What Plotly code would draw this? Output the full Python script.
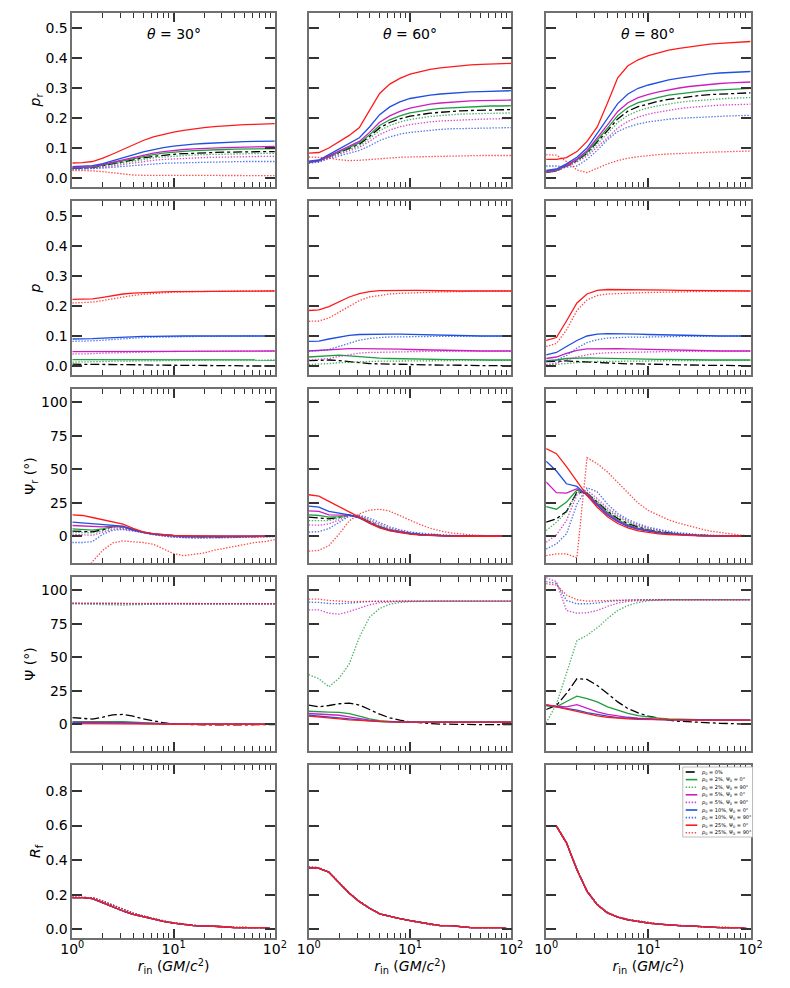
import plotly.graph_objects as go

# inner disc radius grid (GM/c^2)
r_in = [1.0, 1.26, 1.58, 2.0, 2.51, 3.16, 3.98, 5.01, 6.31, 7.94, 10.0,
        12.6, 15.8, 20.0, 25.1, 31.6, 39.8, 50.1, 63.1, 79.4, 100.0]

series_names = [
    '<i>p</i><sub>0</sub> = 0%',
    '<i>p</i><sub>0</sub> = 2%, Ψ<sub>0</sub> = 0°',
    '<i>p</i><sub>0</sub> = 2%, Ψ<sub>0</sub> = 90°',
    '<i>p</i><sub>0</sub> = 5%, Ψ<sub>0</sub> = 0°',
    '<i>p</i><sub>0</sub> = 5%, Ψ<sub>0</sub> = 90°',
    '<i>p</i><sub>0</sub> = 10%, Ψ<sub>0</sub> = 0°',
    '<i>p</i><sub>0</sub> = 10%, Ψ<sub>0</sub> = 90°',
    '<i>p</i><sub>0</sub> = 25%, Ψ<sub>0</sub> = 0°',
    '<i>p</i><sub>0</sub> = 25%, Ψ<sub>0</sub> = 90°',
]
series_colors = ['#000000', '#1f9e3e', '#1f9e3e', '#cc1fc0', '#cc1fc0',
                 '#1f4fe0', '#1f4fe0', '#ff1a1a', '#ff1a1a']
series_dash = ['dashdot', 'solid', 'dot', 'solid', 'dot',
               'solid', 'dot', 'solid', 'dot']

inclinations = [30, 60, 80]

# ---- p_r (reflected polarization degree) ----
pr_30 = [
    [0.032, 0.033, 0.035, 0.041, 0.048, 0.055, 0.061, 0.067, 0.072, 0.076, 0.079, 0.081, 0.083, 0.084, 0.085, 0.086, 0.087, 0.087, 0.088, 0.088, 0.088],
    [0.033, 0.034, 0.036, 0.043, 0.050, 0.058, 0.065, 0.072, 0.078, 0.083, 0.087, 0.089, 0.091, 0.093, 0.094, 0.095, 0.096, 0.097, 0.097, 0.098, 0.098],
    [0.031, 0.032, 0.034, 0.039, 0.045, 0.051, 0.057, 0.062, 0.067, 0.070, 0.073, 0.075, 0.077, 0.078, 0.079, 0.080, 0.081, 0.081, 0.082, 0.082, 0.082],
    [0.035, 0.036, 0.038, 0.045, 0.053, 0.061, 0.069, 0.077, 0.083, 0.088, 0.092, 0.095, 0.097, 0.099, 0.100, 0.101, 0.102, 0.103, 0.104, 0.104, 0.105],
    [0.030, 0.031, 0.032, 0.036, 0.041, 0.046, 0.051, 0.055, 0.059, 0.062, 0.064, 0.066, 0.067, 0.068, 0.069, 0.070, 0.071, 0.071, 0.072, 0.072, 0.072],
    [0.038, 0.039, 0.041, 0.048, 0.057, 0.067, 0.077, 0.087, 0.095, 0.101, 0.106, 0.110, 0.113, 0.115, 0.117, 0.119, 0.120, 0.121, 0.122, 0.122, 0.123],
    [0.028, 0.029, 0.030, 0.033, 0.036, 0.039, 0.042, 0.045, 0.047, 0.049, 0.050, 0.051, 0.052, 0.053, 0.053, 0.054, 0.054, 0.055, 0.055, 0.055, 0.055],
    [0.050, 0.051, 0.055, 0.066, 0.080, 0.095, 0.110, 0.125, 0.137, 0.146, 0.153, 0.159, 0.164, 0.168, 0.171, 0.174, 0.176, 0.178, 0.179, 0.180, 0.181],
    [0.025, 0.025, 0.024, 0.021, 0.017, 0.013, 0.010, 0.009, 0.009, 0.009, 0.009, 0.009, 0.009, 0.009, 0.009, 0.009, 0.009, 0.008, 0.008, 0.008, 0.008],
]
pr_60 = [
    [0.053, 0.057, 0.071, 0.085, 0.098, 0.113, 0.138, 0.167, 0.185, 0.197, 0.206, 0.212, 0.216, 0.219, 0.222, 0.224, 0.225, 0.226, 0.227, 0.228, 0.228],
    [0.053, 0.057, 0.072, 0.087, 0.101, 0.117, 0.144, 0.175, 0.194, 0.207, 0.217, 0.223, 0.228, 0.232, 0.234, 0.236, 0.238, 0.239, 0.240, 0.240, 0.241],
    [0.052, 0.056, 0.070, 0.083, 0.095, 0.108, 0.131, 0.158, 0.175, 0.187, 0.195, 0.201, 0.205, 0.208, 0.211, 0.213, 0.214, 0.215, 0.216, 0.217, 0.217],
    [0.054, 0.058, 0.074, 0.090, 0.105, 0.122, 0.152, 0.186, 0.207, 0.222, 0.233, 0.240, 0.246, 0.250, 0.253, 0.255, 0.257, 0.258, 0.259, 0.259, 0.260],
    [0.051, 0.055, 0.068, 0.080, 0.091, 0.102, 0.122, 0.145, 0.160, 0.171, 0.178, 0.183, 0.187, 0.190, 0.192, 0.194, 0.195, 0.196, 0.197, 0.198, 0.198],
    [0.056, 0.060, 0.078, 0.097, 0.114, 0.134, 0.170, 0.211, 0.237, 0.254, 0.265, 0.271, 0.276, 0.280, 0.283, 0.285, 0.287, 0.288, 0.289, 0.290, 0.291],
    [0.049, 0.053, 0.064, 0.074, 0.083, 0.092, 0.107, 0.125, 0.137, 0.146, 0.152, 0.156, 0.159, 0.162, 0.164, 0.165, 0.166, 0.167, 0.167, 0.168, 0.168],
    [0.083, 0.085, 0.100, 0.120, 0.142, 0.168, 0.226, 0.282, 0.313, 0.332, 0.346, 0.355, 0.362, 0.367, 0.371, 0.374, 0.377, 0.379, 0.380, 0.381, 0.382],
    [0.070, 0.069, 0.067, 0.061, 0.058, 0.059, 0.062, 0.065, 0.067, 0.069, 0.070, 0.071, 0.072, 0.073, 0.073, 0.074, 0.074, 0.075, 0.075, 0.075, 0.075],
]
pr_80 = [
    [0.019, 0.024, 0.040, 0.058, 0.083, 0.119, 0.158, 0.197, 0.223, 0.238, 0.248, 0.256, 0.262, 0.267, 0.271, 0.275, 0.278, 0.280, 0.282, 0.283, 0.284],
    [0.020, 0.025, 0.041, 0.060, 0.086, 0.125, 0.166, 0.208, 0.235, 0.251, 0.261, 0.269, 0.276, 0.281, 0.285, 0.289, 0.292, 0.294, 0.296, 0.298, 0.299],
    [0.019, 0.024, 0.039, 0.056, 0.079, 0.112, 0.148, 0.185, 0.209, 0.224, 0.234, 0.241, 0.247, 0.252, 0.256, 0.259, 0.262, 0.264, 0.266, 0.267, 0.268],
    [0.022, 0.027, 0.043, 0.063, 0.091, 0.133, 0.177, 0.222, 0.251, 0.268, 0.279, 0.287, 0.294, 0.300, 0.305, 0.309, 0.312, 0.315, 0.317, 0.319, 0.320],
    [0.018, 0.023, 0.037, 0.053, 0.073, 0.102, 0.134, 0.167, 0.189, 0.203, 0.213, 0.220, 0.226, 0.231, 0.235, 0.238, 0.241, 0.243, 0.244, 0.245, 0.246],
    [0.025, 0.030, 0.047, 0.069, 0.100, 0.148, 0.198, 0.248, 0.280, 0.299, 0.310, 0.319, 0.327, 0.333, 0.338, 0.343, 0.347, 0.350, 0.352, 0.354, 0.355],
    [0.040, 0.040, 0.036, 0.040, 0.062, 0.092, 0.128, 0.155, 0.170, 0.180, 0.187, 0.192, 0.196, 0.199, 0.201, 0.203, 0.205, 0.206, 0.207, 0.208, 0.209],
    [0.062, 0.062, 0.068, 0.088, 0.122, 0.170, 0.250, 0.334, 0.374, 0.394, 0.408, 0.418, 0.426, 0.432, 0.437, 0.442, 0.446, 0.449, 0.451, 0.453, 0.455],
    [0.078, 0.076, 0.055, 0.027, 0.018, 0.033, 0.047, 0.058, 0.066, 0.071, 0.075, 0.078, 0.080, 0.082, 0.083, 0.085, 0.086, 0.087, 0.088, 0.089, 0.090],
]

# ---- p (total polarization degree) ----
p_30 = [
    [0.006, 0.006, 0.006, 0.006, 0.005, 0.005, 0.004, 0.004, 0.003, 0.003, 0.002, 0.002, 0.002, 0.001, 0.001, 0.001, 0.001, 0.000, 0.000, 0.000, 0.000],
    [0.021, 0.021, 0.021, 0.022, 0.022, 0.022, 0.022, 0.021, 0.021, 0.021, 0.021, 0.020, 0.020, 0.020, 0.020, 0.020, 0.020, 0.020, 0.020, 0.020, 0.020],
    [0.013, 0.013, 0.014, 0.015, 0.016, 0.016, 0.017, 0.017, 0.018, 0.018, 0.018, 0.019, 0.019, 0.019, 0.019, 0.019, 0.019, 0.020, 0.020, 0.020, 0.020],
    [0.048, 0.048, 0.048, 0.049, 0.050, 0.050, 0.050, 0.050, 0.050, 0.050, 0.050, 0.050, 0.050, 0.050, 0.050, 0.050, 0.050, 0.050, 0.050, 0.050, 0.050],
    [0.040, 0.040, 0.041, 0.043, 0.044, 0.045, 0.046, 0.047, 0.048, 0.048, 0.049, 0.049, 0.049, 0.050, 0.050, 0.050, 0.050, 0.050, 0.050, 0.050, 0.050],
    [0.090, 0.090, 0.091, 0.093, 0.095, 0.097, 0.098, 0.099, 0.099, 0.100, 0.100, 0.100, 0.100, 0.100, 0.100, 0.100, 0.100, 0.100, 0.100, 0.100, 0.100],
    [0.082, 0.082, 0.084, 0.086, 0.089, 0.091, 0.093, 0.095, 0.096, 0.097, 0.098, 0.098, 0.099, 0.099, 0.099, 0.100, 0.100, 0.100, 0.100, 0.100, 0.100],
    [0.222, 0.222, 0.224, 0.229, 0.235, 0.240, 0.243, 0.245, 0.246, 0.247, 0.248, 0.248, 0.249, 0.249, 0.249, 0.250, 0.250, 0.250, 0.250, 0.250, 0.250],
    [0.210, 0.211, 0.213, 0.218, 0.224, 0.230, 0.235, 0.239, 0.242, 0.244, 0.246, 0.247, 0.248, 0.249, 0.249, 0.249, 0.250, 0.250, 0.250, 0.250, 0.250],
]
p_60 = [
    [0.018, 0.019, 0.020, 0.018, 0.014, 0.010, 0.008, 0.007, 0.006, 0.005, 0.005, 0.004, 0.004, 0.003, 0.003, 0.002, 0.002, 0.002, 0.001, 0.001, 0.001],
    [0.030, 0.032, 0.035, 0.036, 0.034, 0.031, 0.028, 0.026, 0.025, 0.024, 0.023, 0.022, 0.022, 0.021, 0.021, 0.021, 0.020, 0.020, 0.020, 0.020, 0.020],
    [0.005, 0.006, 0.008, 0.011, 0.013, 0.014, 0.015, 0.016, 0.016, 0.017, 0.017, 0.018, 0.018, 0.018, 0.018, 0.019, 0.019, 0.019, 0.019, 0.019, 0.019],
    [0.050, 0.052, 0.055, 0.057, 0.058, 0.058, 0.058, 0.058, 0.057, 0.056, 0.055, 0.054, 0.053, 0.052, 0.052, 0.051, 0.051, 0.050, 0.050, 0.050, 0.050],
    [0.020, 0.022, 0.025, 0.032, 0.038, 0.043, 0.045, 0.046, 0.047, 0.047, 0.048, 0.048, 0.049, 0.049, 0.049, 0.049, 0.050, 0.050, 0.050, 0.050, 0.050],
    [0.082, 0.083, 0.090, 0.097, 0.102, 0.105, 0.106, 0.106, 0.106, 0.106, 0.105, 0.104, 0.103, 0.102, 0.102, 0.101, 0.101, 0.100, 0.100, 0.100, 0.100],
    [0.050, 0.051, 0.055, 0.065, 0.077, 0.086, 0.092, 0.095, 0.097, 0.097, 0.098, 0.098, 0.099, 0.099, 0.099, 0.099, 0.100, 0.100, 0.100, 0.100, 0.100],
    [0.185, 0.187, 0.198, 0.215, 0.230, 0.241, 0.248, 0.251, 0.252, 0.252, 0.252, 0.252, 0.251, 0.251, 0.250, 0.250, 0.250, 0.250, 0.250, 0.250, 0.250],
    [0.149, 0.150, 0.160, 0.180, 0.200, 0.218, 0.230, 0.236, 0.240, 0.242, 0.244, 0.245, 0.246, 0.247, 0.248, 0.248, 0.249, 0.249, 0.250, 0.250, 0.250],
]
p_80 = [
    [0.015, 0.016, 0.017, 0.015, 0.013, 0.011, 0.010, 0.009, 0.007, 0.007, 0.006, 0.005, 0.004, 0.004, 0.003, 0.003, 0.002, 0.002, 0.002, 0.001, 0.001],
    [0.018, 0.020, 0.025, 0.027, 0.027, 0.026, 0.025, 0.025, 0.024, 0.023, 0.023, 0.022, 0.022, 0.021, 0.021, 0.021, 0.020, 0.020, 0.020, 0.020, 0.020],
    [0.003, 0.006, 0.010, 0.013, 0.014, 0.015, 0.015, 0.016, 0.016, 0.016, 0.017, 0.017, 0.018, 0.018, 0.018, 0.018, 0.019, 0.019, 0.019, 0.019, 0.019],
    [0.025, 0.030, 0.042, 0.052, 0.057, 0.058, 0.058, 0.058, 0.057, 0.056, 0.055, 0.054, 0.053, 0.052, 0.052, 0.051, 0.051, 0.050, 0.050, 0.050, 0.050],
    [0.005, 0.010, 0.020, 0.030, 0.037, 0.042, 0.044, 0.045, 0.046, 0.046, 0.047, 0.048, 0.048, 0.049, 0.049, 0.049, 0.050, 0.050, 0.050, 0.050, 0.050],
    [0.037, 0.045, 0.065, 0.085, 0.100, 0.106, 0.108, 0.108, 0.107, 0.106, 0.105, 0.104, 0.103, 0.102, 0.102, 0.101, 0.101, 0.100, 0.100, 0.100, 0.100],
    [0.015, 0.020, 0.035, 0.060, 0.078, 0.088, 0.093, 0.095, 0.096, 0.096, 0.097, 0.098, 0.098, 0.099, 0.099, 0.099, 0.100, 0.100, 0.100, 0.100, 0.100],
    [0.085, 0.095, 0.150, 0.210, 0.240, 0.252, 0.255, 0.255, 0.255, 0.255, 0.254, 0.253, 0.253, 0.252, 0.252, 0.251, 0.251, 0.250, 0.250, 0.250, 0.250],
    [0.065, 0.075, 0.120, 0.185, 0.220, 0.235, 0.240, 0.242, 0.243, 0.244, 0.245, 0.246, 0.247, 0.247, 0.248, 0.248, 0.249, 0.249, 0.250, 0.250, 0.250],
]

# ---- Psi_r (reflected polarization angle, deg) ----
psir_30 = [
    [3.8, 3.8, 3.3, 4.8, 7.2, 7.0, 5.0, 3.0, 1.6, 0.7, 0.1, -0.3, -0.5, -0.6, -0.6, -0.5, -0.4, -0.3, -0.2, -0.1, 0.0],
    [5.5, 5.2, 4.5, 5.5, 7.3, 7.0, 4.8, 2.8, 1.5, 0.8, 0.2, -0.2, -0.4, -0.4, -0.4, -0.3, -0.3, -0.2, -0.1, -0.1, 0.0],
    [3.0, 3.0, 2.5, 4.2, 6.5, 6.0, 4.5, 2.7, 1.3, 0.5, -0.1, -0.5, -0.7, -0.8, -0.7, -0.6, -0.5, -0.4, -0.3, -0.2, -0.1],
    [8.0, 7.6, 7.0, 7.0, 7.5, 7.0, 4.7, 2.8, 1.6, 0.9, 0.4, 0.1, 0.0, -0.1, -0.2, -0.2, -0.2, -0.1, -0.1, 0.0, 0.0],
    [1.5, 1.0, 0.7, 3.0, 5.3, 5.5, 4.3, 2.7, 1.2, 0.2, -0.5, -1.0, -1.2, -1.2, -1.1, -1.0, -0.8, -0.6, -0.4, -0.3, -0.2],
    [10.5, 10.0, 9.0, 8.7, 8.5, 7.5, 5.0, 3.0, 1.8, 1.1, 0.6, 0.3, 0.1, 0.0, 0.0, 0.0, 0.0, 0.0, 0.0, 0.0, 0.0],
    [-4.7, -4.7, -4.0, 1.5, 4.5, 5.0, 3.8, 2.4, 1.0, 0.0, -0.7, -1.2, -1.4, -1.4, -1.3, -1.1, -0.9, -0.7, -0.5, -0.4, -0.3],
    [16.0, 15.5, 14.0, 12.2, 11.0, 9.0, 5.8, 3.3, 2.0, 1.2, 0.7, 0.5, 0.3, 0.2, 0.1, 0.1, 0.05, 0.0, 0.0, 0.0, 0.0],
    [-38.0, -29.0, -19.0, -10.5, -5.0, -3.5, -4.2, -4.7, -6.0, -9.2, -13.0, -14.5, -13.5, -12.5, -10.5, -9.2, -7.5, -6.2, -4.7, -4.0, -2.5],
]
psir_60 = [
    [14.2, 13.5, 13.0, 14.2, 15.8, 14.2, 10.6, 7.2, 4.8, 3.2, 2.1, 1.3, 0.8, 0.4, 0.2, 0.1, 0.0, 0.0, 0.0, 0.0, 0.0],
    [16.0, 15.5, 14.2, 14.7, 15.8, 14.0, 10.3, 7.0, 4.7, 3.1, 2.0, 1.3, 0.7, 0.4, 0.2, 0.1, 0.0, 0.0, 0.0, 0.0, 0.0],
    [11.7, 11.5, 11.7, 13.5, 15.7, 15.0, 11.5, 8.0, 5.4, 3.6, 2.3, 1.5, 0.9, 0.5, 0.3, 0.1, 0.0, 0.0, 0.0, 0.0, 0.0],
    [19.0, 18.5, 16.0, 15.7, 15.8, 13.7, 10.0, 6.8, 4.5, 3.0, 1.9, 1.2, 0.7, 0.3, 0.1, 0.0, 0.0, 0.0, 0.0, 0.0, 0.0],
    [8.5, 8.2, 9.2, 12.2, 15.2, 15.2, 12.3, 8.8, 6.0, 4.0, 2.6, 1.7, 1.0, 0.6, 0.3, 0.1, 0.0, 0.0, 0.0, 0.0, 0.0],
    [22.5, 21.7, 18.5, 17.2, 16.0, 13.7, 9.8, 6.6, 4.3, 2.8, 1.8, 1.1, 0.6, 0.3, 0.1, 0.0, 0.0, 0.0, 0.0, 0.0, 0.0],
    [3.0, 3.5, 5.7, 10.5, 15.0, 15.7, 13.5, 10.2, 7.0, 4.8, 3.2, 2.3, 1.6, 1.1, 0.7, 0.4, 0.2, 0.1, 0.0, 0.0, 0.0],
    [31.0, 30.0, 26.0, 22.0, 18.5, 14.3, 9.8, 6.3, 4.0, 2.5, 1.5, 0.8, 0.4, 0.2, 0.1, 0.0, 0.0, 0.0, 0.0, 0.0, 0.0],
    [-11.2, -10.5, -7.0, 1.7, 11.5, 16.7, 19.5, 20.2, 18.7, 15.5, 11.7, 8.7, 6.0, 3.9, 2.5, 1.6, 1.0, 0.6, 0.3, 0.1, 0.0],
]
psir_80 = [
    [10.5, 13.0, 18.5, 33.0, 32.2, 25.5, 18.7, 13.2, 9.4, 6.8, 4.8, 3.4, 2.3, 1.5, 1.0, 0.6, 0.4, 0.2, 0.1, 0.0, 0.0],
    [22.2, 20.2, 25.5, 34.5, 31.7, 24.8, 17.7, 12.3, 8.6, 6.0, 4.2, 2.9, 2.0, 1.3, 0.9, 0.5, 0.3, 0.1, 0.0, 0.0, 0.0],
    [4.2, 10.5, 18.0, 33.0, 33.0, 26.5, 19.5, 14.5, 10.5, 7.6, 5.4, 3.8, 2.7, 1.8, 1.2, 0.8, 0.5, 0.3, 0.1, 0.0, 0.0],
    [40.5, 32.5, 32.2, 35.5, 31.5, 24.0, 16.8, 11.5, 8.0, 5.6, 3.9, 2.7, 1.8, 1.2, 0.8, 0.5, 0.3, 0.1, 0.0, 0.0, 0.0],
    [-4.5, 1.0, 11.7, 31.0, 34.5, 28.2, 21.0, 15.5, 11.4, 8.3, 6.0, 4.3, 3.0, 2.0, 1.4, 0.9, 0.5, 0.3, 0.1, 0.0, 0.0],
    [56.0, 48.7, 39.2, 37.2, 30.5, 22.8, 15.8, 10.8, 7.4, 5.2, 3.6, 2.5, 1.7, 1.1, 0.7, 0.4, 0.2, 0.1, 0.0, 0.0, 0.0],
    [-9.5, -5.7, 1.7, 24.0, 36.2, 33.2, 24.0, 17.0, 12.5, 9.3, 6.8, 5.0, 3.6, 2.6, 1.8, 1.2, 0.8, 0.5, 0.2, 0.1, 0.0],
    [65.5, 61.7, 52.0, 41.0, 30.5, 21.7, 14.5, 9.5, 6.2, 4.0, 2.7, 1.8, 1.2, 0.8, 0.5, 0.3, 0.2, 0.1, 0.0, 0.0, 0.0],
    [-14.5, -13.2, -13.2, -16.0, 58.7, 54.2, 48.0, 40.5, 32.2, 24.7, 19.2, 15.5, 12.2, 9.7, 7.5, 5.7, 3.9, 2.7, 1.5, 0.8, 0.2],
]

# ---- Psi (total polarization angle, deg) ----
psi_30 = [
    [5.0, 4.5, 3.8, 5.3, 7.0, 7.3, 6.0, 4.0, 2.4, 1.1, 0.2, -0.2, -0.4, -0.5, -0.5, -0.5, -0.5, -0.4, -0.4, -0.3, -0.3],
    [2.0, 2.0, 1.9, 2.0, 2.2, 2.0, 1.6, 1.1, 0.7, 0.4, 0.2, 0.1, 0.0, 0.0, 0.0, 0.0, 0.0, 0.0, 0.0, 0.0, 0.0],
    [90.0, 89.8, 89.5, 89.0, 88.8, 89.0, 89.3, 89.6, 89.8, 90.0, 90.0, 90.0, 90.0, 90.0, 90.0, 90.0, 90.0, 90.0, 90.0, 90.0, 90.0],
    [1.5, 1.5, 1.4, 1.5, 1.6, 1.4, 1.1, 0.8, 0.5, 0.3, 0.2, 0.1, 0.0, 0.0, 0.0, 0.0, 0.0, 0.0, 0.0, 0.0, 0.0],
    [90.2, 90.1, 90.0, 89.7, 89.6, 89.7, 89.9, 90.0, 90.0, 90.0, 90.0, 90.0, 90.0, 90.0, 90.0, 90.0, 90.0, 90.0, 90.0, 90.0, 90.0],
    [1.0, 1.0, 1.0, 1.0, 1.1, 1.0, 0.8, 0.5, 0.3, 0.2, 0.1, 0.0, 0.0, 0.0, 0.0, 0.0, 0.0, 0.0, 0.0, 0.0, 0.0],
    [90.4, 90.3, 90.2, 90.0, 90.0, 90.0, 90.0, 90.0, 90.0, 90.0, 90.0, 90.0, 90.0, 90.0, 90.0, 90.0, 90.0, 90.0, 90.0, 90.0, 90.0],
    [0.5, 0.5, 0.5, 0.5, 0.6, 0.5, 0.4, 0.3, 0.2, 0.1, 0.0, 0.0, 0.0, 0.0, 0.0, 0.0, 0.0, 0.0, 0.0, 0.0, 0.0],
    [90.5, 90.5, 90.4, 90.3, 90.2, 90.2, 90.1, 90.0, 90.0, 90.0, 90.0, 90.0, 90.0, 90.0, 90.0, 90.0, 90.0, 90.0, 90.0, 90.0, 90.0],
]
psi_60 = [
    [14.2, 13.0, 14.0, 15.3, 15.8, 14.3, 11.0, 7.5, 4.8, 3.0, 1.8, 1.0, 0.5, 0.1, -0.1, -0.2, -0.3, -0.3, -0.3, -0.3, -0.3],
    [9.7, 9.2, 9.0, 8.8, 8.0, 6.0, 4.0, 2.6, 1.9, 1.6, 1.5, 1.5, 1.5, 1.5, 1.5, 1.5, 1.5, 1.5, 1.5, 1.5, 1.5],
    [37.0, 34.0, 28.0, 34.5, 45.0, 65.0, 80.0, 86.5, 89.7, 91.0, 91.6, 91.9, 92.0, 92.0, 92.0, 92.0, 92.0, 92.0, 92.0, 92.0, 92.0],
    [8.0, 7.5, 7.2, 6.7, 5.5, 4.0, 3.0, 2.2, 1.8, 1.6, 1.5, 1.5, 1.5, 1.5, 1.5, 1.5, 1.5, 1.5, 1.5, 1.5, 1.5],
    [85.5, 85.4, 83.0, 82.2, 84.2, 86.7, 89.2, 90.8, 91.6, 91.9, 92.0, 92.0, 92.0, 92.0, 92.0, 92.0, 92.0, 92.0, 92.0, 92.0, 92.0],
    [6.7, 6.2, 5.5, 4.7, 4.0, 3.0, 2.5, 2.0, 1.7, 1.6, 1.5, 1.5, 1.5, 1.5, 1.5, 1.5, 1.5, 1.5, 1.5, 1.5, 1.5],
    [91.2, 91.0, 90.2, 90.0, 90.5, 91.2, 91.7, 91.9, 92.0, 92.0, 92.0, 92.0, 92.0, 92.0, 92.0, 92.0, 92.0, 92.0, 92.0, 92.0, 92.0],
    [6.0, 5.5, 4.7, 4.0, 3.2, 2.7, 2.2, 1.9, 1.7, 1.6, 1.5, 1.5, 1.5, 1.5, 1.5, 1.5, 1.5, 1.5, 1.5, 1.5, 1.5],
    [93.5, 93.4, 92.5, 91.8, 91.6, 91.7, 91.8, 91.9, 92.0, 92.0, 92.0, 92.0, 92.0, 92.0, 92.0, 92.0, 92.0, 92.0, 92.0, 92.0, 92.0],
]
psi_80 = [
    [11.0, 14.0, 23.0, 34.0, 33.5, 29.0, 23.0, 16.7, 11.7, 8.5, 6.0, 4.3, 3.0, 2.2, 1.7, 1.3, 1.0, 0.7, 0.5, 0.3, 0.0],
    [13.7, 13.0, 17.0, 21.0, 19.2, 16.7, 13.0, 10.5, 8.2, 6.4, 5.3, 4.5, 4.0, 3.7, 3.5, 3.3, 3.2, 3.1, 3.0, 3.0, 3.0],
    [1.0, 15.0, 38.0, 62.5, 66.5, 72.0, 79.0, 85.0, 88.7, 91.0, 92.3, 92.8, 93.0, 93.0, 93.0, 93.0, 93.0, 93.0, 93.0, 93.0, 93.0],
    [14.2, 13.5, 13.0, 14.7, 11.8, 9.3, 7.3, 6.0, 5.2, 4.5, 4.0, 3.7, 3.5, 3.3, 3.2, 3.1, 3.0, 3.0, 3.0, 3.0, 3.0],
    [109.5, 106.5, 85.0, 83.0, 83.3, 85.0, 88.0, 90.5, 91.8, 92.5, 92.8, 93.0, 93.0, 93.0, 93.0, 93.0, 93.0, 93.0, 93.0, 93.0, 93.0],
    [14.2, 13.0, 11.7, 10.5, 8.7, 7.2, 6.0, 5.0, 4.5, 4.0, 3.7, 3.5, 3.3, 3.2, 3.1, 3.0, 3.0, 3.0, 3.0, 3.0, 3.0],
    [106.5, 105.3, 92.5, 90.0, 90.0, 90.5, 91.7, 92.4, 92.8, 93.0, 93.0, 93.0, 93.0, 93.0, 93.0, 93.0, 93.0, 93.0, 93.0, 93.0, 93.0],
    [14.7, 13.0, 11.0, 9.2, 7.5, 6.2, 5.2, 4.5, 4.0, 3.7, 3.5, 3.3, 3.2, 3.1, 3.0, 3.0, 3.0, 3.0, 3.0, 3.0, 3.0],
    [105.0, 104.0, 96.5, 93.0, 92.0, 92.0, 92.4, 92.7, 92.9, 93.0, 93.0, 93.0, 93.0, 93.0, 93.0, 93.0, 93.0, 93.0, 93.0, 93.0, 93.0],
]

# ---- R_f (reflection fraction); curves nearly coincide ----
rf_30_solid = [0.183, 0.183, 0.178, 0.153, 0.129, 0.106, 0.087, 0.072, 0.058, 0.046, 0.036, 0.028, 0.022, 0.020, 0.019, 0.015, 0.010, 0.010, 0.010, 0.010, 0.000]
rf_30_dotted = [0.186, 0.186, 0.183, 0.163, 0.140, 0.115, 0.094, 0.077, 0.062, 0.049, 0.038, 0.029, 0.023, 0.020, 0.019, 0.015, 0.011, 0.010, 0.010, 0.010, 0.000]
rf_60_solid = [0.355, 0.353, 0.330, 0.268, 0.209, 0.160, 0.122, 0.090, 0.074, 0.062, 0.050, 0.039, 0.028, 0.021, 0.021, 0.016, 0.010, 0.010, 0.010, 0.010, 0.000]
rf_60_dotted = [0.360, 0.357, 0.331, 0.270, 0.211, 0.162, 0.123, 0.091, 0.074, 0.062, 0.050, 0.039, 0.028, 0.021, 0.021, 0.016, 0.010, 0.010, 0.010, 0.010, 0.000]
rf_80_solid = [0.600, 0.596, 0.500, 0.345, 0.220, 0.142, 0.095, 0.071, 0.055, 0.045, 0.036, 0.030, 0.025, 0.022, 0.020, 0.016, 0.012, 0.010, 0.010, 0.010, 0.000]
rf_80_dotted = [0.600, 0.597, 0.502, 0.347, 0.222, 0.145, 0.097, 0.073, 0.057, 0.047, 0.038, 0.031, 0.026, 0.022, 0.020, 0.017, 0.012, 0.011, 0.010, 0.010, 0.000]

rf_30 = [rf_30_solid, rf_30_solid, rf_30_dotted, rf_30_solid, rf_30_dotted,
         rf_30_solid, rf_30_dotted, rf_30_solid, rf_30_dotted]
rf_60 = [rf_60_solid, rf_60_solid, rf_60_dotted, rf_60_solid, rf_60_dotted,
         rf_60_solid, rf_60_dotted, rf_60_solid, rf_60_dotted]
rf_80 = [rf_80_solid, rf_80_solid, rf_80_dotted, rf_80_solid, rf_80_dotted,
         rf_80_solid, rf_80_dotted, rf_80_solid, rf_80_dotted]

panels = [
    [pr_30, pr_60, pr_80],
    [p_30, p_60, p_80],
    [psir_30, psir_60, psir_80],
    [psi_30, psi_60, psi_80],
    [rf_30, rf_60, rf_80],
]
row_titles = ['<i>p</i><sub>r</sub>', '<i>p</i>', 'Ψ<sub>r</sub> (°)', 'Ψ (°)',
              '<i>R</i><sub>f</sub>']
row_ranges = [[-0.03, 0.55], [-0.03, 0.55], [-20, 110], [-20, 110], [-0.05, 0.95]]
row_ticks = [
    [0.0, 0.1, 0.2, 0.3, 0.4, 0.5],
    [0.0, 0.1, 0.2, 0.3, 0.4, 0.5],
    [0, 25, 50, 75, 100],
    [0, 25, 50, 75, 100],
    [0.0, 0.2, 0.4, 0.6, 0.8],
]
row_ticktext = [
    ['0.0', '0.1', '0.2', '0.3', '0.4', '0.5'],
    ['0.0', '0.1', '0.2', '0.3', '0.4', '0.5'],
    ['0', '25', '50', '75', '100'],
    ['0', '25', '50', '75', '100'],
    ['0.0', '0.2', '0.4', '0.6', '0.8'],
]

# the page body keeps its default 8px margin on every side, so the figure
# is made 16px smaller and laid out in page pixels minus that offset
PAGE_OFF = 8
W, H = 790 - 2 * PAGE_OFF, 988 - 2 * PAGE_OFF
col_px = [(62, 271), (306, 515), (551, 762)]
row_px = [(13, 187), (201, 375), (389, 563), (577, 751), (765, 938)]


def fx(px):
    return (px - PAGE_OFF) / W


def fy(py):
    return 1 - (py - PAGE_OFF) / H


minor_vals = [2, 3, 4, 5, 6, 7, 8, 9, 20, 30, 40, 50, 60, 70, 80, 90]
tick_color = '#333333'
frame_color = '#707070'
dot_pattern = '1.4px,1.6px'


def dash_of(style):
    return dot_pattern if style == 'dot' else style


fig = go.Figure()
layout = {}

for i in range(5):
    for j in range(3):
        n = i * 3 + j + 1
        xname = 'x' if n == 1 else f'x{n}'
        yname = 'y' if n == 1 else f'y{n}'
        for s in range(9):
            fig.add_trace(go.Scatter(
                x=r_in, y=panels[i][j][s], mode='lines',
                name=series_names[s],
                line=dict(color=series_colors[s], dash=dash_of(series_dash[s]),
                          width=1.3),
                opacity=0.8 if series_dash[s] == 'dot' else 1.0,
                showlegend=False,
                xaxis=xname, yaxis=yname))

        x0, x1 = col_px[j]
        y0, y1 = row_px[i]
        xa = dict(
            type='log', range=[0, 2],
            domain=[fx(x0), fx(x1)], anchor=yname,
            showgrid=False, zeroline=False,
            showline=True, linecolor=frame_color, linewidth=1.5, mirror='ticks',
            ticks='inside', ticklen=9, tickwidth=1.5, tickcolor=tick_color,
            tickmode='array', tickvals=[1, 10, 100],
            ticktext=['10<sup>0</sup>', '10<sup>1</sup>', '10<sup>2</sup>'],
            showticklabels=(i == 4),
            tickfont=dict(size=14),
            ticklabelstandoff=-3,
            minor=dict(ticks='inside', ticklen=5, tickwidth=1.2,
                       tickcolor=tick_color, tickmode='array',
                       tickvals=minor_vals, showgrid=False),
        )
        if i == 4:
            xa['title'] = dict(
                text='<i>r</i><sub>in</sub> (<i>GM</i>/<i>c</i><sup>2</sup>)',
                font=dict(size=14), standoff=6)
        ya = dict(
            range=row_ranges[i],
            domain=[fy(y1), fy(y0)], anchor=xname,
            showgrid=False, zeroline=False,
            showline=True, linecolor=frame_color, linewidth=1.5, mirror='ticks',
            ticks='inside', ticklen=10, tickwidth=1.5, tickcolor=tick_color,
            tickmode='array', tickvals=row_ticks[i], ticktext=row_ticktext[i],
            showticklabels=(j == 0),
            tickfont=dict(size=14),
        )
        if j == 0:
            ya['title'] = dict(text=row_titles[i], font=dict(size=14),
                               standoff=2)
        layout['xaxis' if n == 1 else f'xaxis{n}'] = xa
        layout['yaxis' if n == 1 else f'yaxis{n}'] = ya

fig.update_layout(**layout)

# inclination labels in the top row
for j, inc in enumerate(inclinations):
    x0, x1 = col_px[j]
    fig.add_annotation(
        x=fx((x0 + x1) / 2), y=fy(34), xref='paper', yref='paper',
        text=f'<i>θ</i> = {inc}°', showarrow=False,
        font=dict(size=14), xanchor='center', yanchor='middle')

# compact legend in the bottom-right panel (plotly's own legend rows are
# too tall for this size, so it is drawn as a small key)
leg_left, leg_right, leg_top, leg_bottom = 692, 764, 767, 837
leg_row = 7.6
fig.add_shape(type='rect', xref='paper', yref='paper',
              x0=fx(leg_left), x1=fx(leg_right),
              y0=fy(leg_bottom), y1=fy(leg_top),
              line=dict(color='#bdbdbd', width=1), fillcolor='white',
              layer='above')
for s in range(9):
    yc = fy(leg_top + 5 + s * leg_row)
    fig.add_shape(type='line', xref='paper', yref='paper',
                  x0=fx(leg_left + 3), x1=fx(leg_left + 15), y0=yc, y1=yc,
                  line=dict(color=series_colors[s], width=1.6,
                            dash=dash_of(series_dash[s])),
                  opacity=0.8 if series_dash[s] == 'dot' else 1.0,
                  layer='above')
    fig.add_annotation(x=fx(leg_left + 17), y=yc, xref='paper', yref='paper',
                       text=series_names[s], showarrow=False,
                       font=dict(size=5), xanchor='left', yanchor='middle')

fig.update_layout(
    width=W, height=H,
    margin=dict(l=0, r=0, t=0, b=0),
    paper_bgcolor='white', plot_bgcolor='white',
    font=dict(family='DejaVu Sans', size=14, color='black'),
    showlegend=False,
)

fig.write_html('out.html')
